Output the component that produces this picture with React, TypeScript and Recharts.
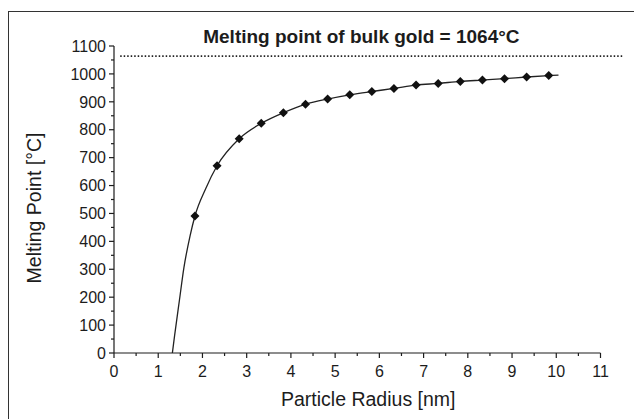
import React from "react";
import {
  ComposedChart,
  Line,
  Scatter,
  XAxis,
  YAxis,
  ReferenceLine,
  Label,
} from "recharts";

// measured particles (diamonds)
const particleRadius = [1.83, 2.33, 2.83, 3.33, 3.83, 4.33, 4.83, 5.33, 5.83, 6.33, 6.83, 7.33, 7.83, 8.33, 8.83, 9.33, 9.83];
const meltingPoint = [491, 671, 768, 823, 861, 891, 910, 925, 937, 948, 960, 966, 973, 978, 983, 989, 994];

// extra points of the fitted curve
const curveStartRadius = [1.32, 1.37, 1.48, 1.58, 1.72];
const curveStartMelt = [0, 62, 190, 305, 420];
const curveMidRadius = [2.07];
const curveMidMelt = [588];
const curveEndRadius = [10.05];
const curveEndMelt = [996];

const bulkMeltingPoint = 1064;
const bulkLineRange = [0.14, 11.5];

const xMajorTicks = [0, 1, 2, 3, 4, 5, 6, 7, 8, 9, 10, 11];
const xMinorTicks = [0.5, 1.5, 2.5, 3.5, 4.5, 5.5, 6.5, 7.5, 8.5, 9.5, 10.5];
const yMajorTicks = [0, 100, 200, 300, 400, 500, 600, 700, 800, 900, 1000, 1100];
const yMinorTicks = [50, 150, 250, 350, 450, 550, 650, 750, 850, 950, 1050];

const FONT = '"Liberation Sans", Arial, Helvetica, sans-serif';
const INK = "#1c1c1c";

const points = particleRadius.map((r, i) => ({ r, t: meltingPoint[i] }));
const curve = [
  ...curveStartRadius.map((r, i) => ({ r, t: curveStartMelt[i] })),
  ...points,
  ...curveMidRadius.map((r, i) => ({ r, t: curveMidMelt[i] })),
  ...curveEndRadius.map((r, i) => ({ r, t: curveEndMelt[i] })),
].sort((a, b) => a.r - b.r);

const XTick = (props: any) => {
  const { x, y, payload } = props;
  const major = xMajorTicks.includes(payload.value);
  return (
    <g>
      <line x1={x} x2={x} y1={y} y2={y + (major ? 5 : 3)} stroke={INK} strokeWidth={1.2} />
      {major && (
        <text x={x} y={y + 24} textAnchor="middle" fontSize={16} fontFamily={FONT} fill={INK}>
          {payload.value}
        </text>
      )}
    </g>
  );
};

const YTick = (props: any) => {
  const { x, y, payload } = props;
  const major = yMajorTicks.includes(payload.value);
  return (
    <g>
      <line x1={x} x2={x - (major ? 5 : 3)} y1={y} y2={y} stroke={INK} strokeWidth={1.2} />
      {major && (
        <text x={x - 8} y={y} dy="0.36em" textAnchor="end" fontSize={16} fontFamily={FONT} fill={INK}>
          {payload.value}
        </text>
      )}
    </g>
  );
};

const Diamond = (props: any) => {
  const { cx, cy } = props;
  const s = 4.5;
  return <polygon points={`${cx},${cy - s} ${cx + s},${cy} ${cx},${cy + s} ${cx - s},${cy}`} fill="#111" />;
};

export default function App() {
  return (
    <div style={{ position: "absolute", left: 0, top: 0, width: 634, height: 419, background: "#fff", overflow: "hidden" }}>
      <div
        style={{
          position: "absolute",
          left: 8,
          top: 11,
          width: 700,
          height: 500,
          borderLeft: "1.5px solid #333",
          borderTop: "1.5px solid #333",
        }}
      />
      <div style={{ position: "absolute", left: 0, top: 0 }}>
        <ComposedChart width={634} height={419} margin={{ top: 46, right: 33.5, bottom: 0, left: 0 }}>
          <XAxis
            dataKey="r"
            type="number"
            domain={[0, 11]}
            ticks={[...xMajorTicks, ...xMinorTicks].sort((a, b) => a - b)}
            interval={0}
            height={66}
            tickSize={0}
            tickMargin={0}
            tickLine={false}
            tick={XTick}
            axisLine={{ stroke: INK, strokeWidth: 1.2 }}
          >
            <Label
              value="Particle Radius [nm]"
              position="insideBottom"
              offset={13}
              dx={11}
              style={{ fontSize: 19.5, fontFamily: FONT, fill: INK }}
            />
          </XAxis>
          <YAxis
            type="number"
            domain={[0, 1100]}
            ticks={[...yMajorTicks, ...yMinorTicks].sort((a, b) => a - b)}
            interval={0}
            width={114}
            tickSize={0}
            tickMargin={0}
            tickLine={false}
            tick={YTick}
            axisLine={{ stroke: INK, strokeWidth: 1.2 }}
          >
            <Label
              content={() => (
                <text
                  transform="translate(34,208) rotate(-90)"
                  textAnchor="middle"
                  dominantBaseline="central"
                  fontSize={19.5}
                  fontFamily={FONT}
                  fill={INK}
                >
                  Melting Point [°C]
                </text>
              )}
            />
          </YAxis>
          <ReferenceLine
            segment={[
              { x: bulkLineRange[0], y: bulkMeltingPoint },
              { x: bulkLineRange[1], y: bulkMeltingPoint },
            ]}
            ifOverflow="visible"
            stroke="#222"
            strokeWidth={1.8}
            strokeDasharray="1.5 2"
          >
            <Label
              value={`Melting point of bulk gold = ${bulkMeltingPoint}°C`}
              position="top"
              offset={13}
              dx={-10}
              style={{ fontSize: 19, fontWeight: "bold", fontFamily: FONT, fill: INK }}
            />
          </ReferenceLine>
          <Line
            data={curve}
            dataKey="t"
            type="monotone"
            stroke="#222"
            strokeWidth={1.3}
            dot={false}
            isAnimationActive={false}
          />
          <Scatter data={points} dataKey="t" shape={Diamond} isAnimationActive={false} />
        </ComposedChart>
      </div>
    </div>
  );
}
